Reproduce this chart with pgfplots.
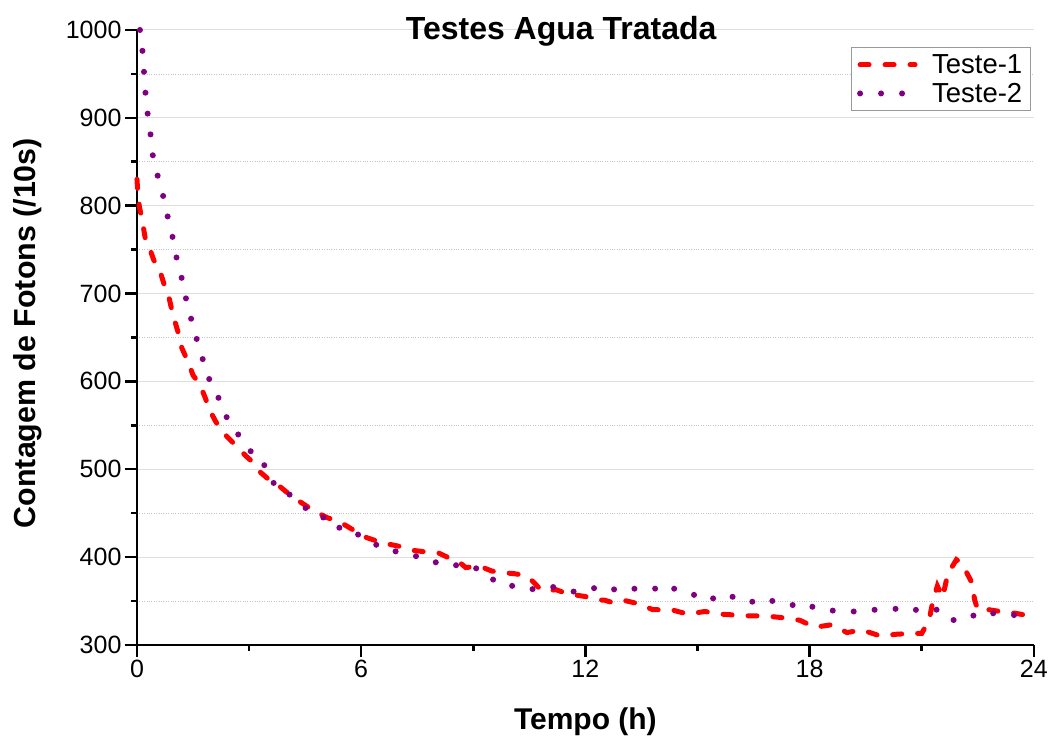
\documentclass[border=0pt]{standalone}
\usepackage{pgfplots}
\pgfplotsset{compat=1.18}
\usepackage{fontspec}
\setmainfont{Liberation Sans}
\definecolor{teste1}{RGB}{255,0,0}
\definecolor{teste2}{RGB}{128,0,128}

\begin{document}
\begin{tikzpicture}
\begin{axis}[
  name=ax,
  scale only axis,
  width=897pt, height=615pt,
  xmin=0, xmax=24, ymin=300, ymax=1000,
  axis lines=left,
  axis line style={-, line width=2.5pt, black},
  xtick={0,6,12,18,24},
  ytick={300,400,...,1000},
  minor x tick num=1,
  minor y tick num=1,
  tick align=outside,
  major tick length=12pt,
  minor tick length=6pt,
  every tick/.style={black, line width=2.5pt},
  ymajorgrids, yminorgrids,
  major grid style={gray!25, line width=1pt},
  minor grid style={gray!45, dotted, line width=0.7pt},
  /pgf/number format/assume math mode=true,
  /pgf/number format/set thousands separator={},
  tick label style={font=\fontsize{25}{29}\selectfont},
  title={\bfseries Testes Agua Tratada},
  title style={font=\fontsize{32}{36}\selectfont, at={(axis description cs:0.473,0.974)}, anchor=base},
  xlabel={\bfseries Tempo (h)},
  xlabel style={font=\fontsize{30}{34}\selectfont, at={(axis description cs:0.5,-0.138)}, anchor=base},
  ylabel={\bfseries Contagem de Fotons (/10s)},
  ylabel style={font=\fontsize{30.4}{34}\selectfont, at={(axis description cs:-0.1126,0.507)}, anchor=base},
  legend style={at={(axis description cs:0.9966,0.972)}, anchor=north east,
    draw=gray!80, line width=1pt, font=\fontsize{27.5}{31}\selectfont,
    inner xsep=6pt, inner ysep=5pt, row sep=4pt,
    /tikz/every odd column/.append style={column sep=12pt}},
  legend cell align=left,
  legend image code/.code={\draw[#1] (0pt,0pt) -- (55pt,0pt);},
  clip=false,
]
\addplot[teste1, line width=5pt, line cap=round, dash pattern=on 9pt off 16pt] coordinates {
(0,830) (0.03,810) (0.06,800) (0.15,781) (0.22,763) (0.35,750) (0.45,738)
(0.62,725) (0.73,710) (0.86,695) (0.96,676) (1.10,656) (1.20,638) (1.37,622)
(1.50,607) (1.69,596) (1.82,582) (1.95,567) (2.11,554) (2.25,545) (2.41,537)
(2.62,528) (2.94,514) (3.10,508) (3.29,497) (3.48,490) (3.64,484) (3.83,480)
(4.09,471) (4.36,463) (4.68,454) (5.08,445) (5.43,440) (5.78,431) (6.15,422)
(6.58,416) (7.04,412) (7.3,408) (7.7,406) (8.05,405) (8.3,400) (8.6,395)
(8.8,388) (9.0,389) (9.26,388) (9.5,384) (9.85,382) (10.1,381) (10.4,379)
(10.6,372) (10.8,363) (11.0,361) (11.2,363) (11.4,360) (11.7,357) (12.0,355)
(12.3,351) (12.5,351) (12.74,348) (13.0,351) (13.5,346) (13.8,340) (14.3,340)
(14.74,335) (15.2,338) (15.6,335) (16.0,334) (16.4,333) (16.8,333) (17.26,331)
(17.74,328) (18.14,320) (18.6,323) (19.0,314) (19.4,317) (19.9,310) (20.3,312)
(20.7,313) (21.0,313) (21.2,328) (21.3,350) (21.42,367) (21.56,354) (21.7,381)
(21.93,397) (22.07,393) (22.33,372) (22.42,351) (22.5,340) (22.8,340)
(23.1,338) (23.5,336) (23.9,333) (24.0,331)
};
\addlegendentry{Teste-1}
\addplot[teste2, line width=6pt, line cap=round, dash pattern=on 0pt off 21pt] coordinates {
(0.08,1000) (0.15,975) (0.19,951) (0.23,927) (0.29,903) (0.37,879) (0.43,855)
(0.56,833) (0.70,811) (0.82,788) (0.94,767) (1.04,744) (1.18,721) (1.29,698)
(1.42,676) (1.55,655) (1.69,635) (1.84,614) (1.98,597) (2.11,588) (2.27,573)
(2.43,556) (2.62,546) (2.80,533) (3.02,521) (3.20,517) (3.37,512) (3.47,492)
(3.69,483) (3.91,481) (4.12,469) (4.36,462) (4.63,451) (4.84,445) (5.10,445)
(5.34,433) (5.57,434) (5.78,427) (5.97,425) (6.2,418) (6.45,413) (6.68,412)
(6.85,407) (7.1,405) (7.35,402) (7.57,400) (7.79,395) (8.0,394) (8.24,395)
(8.5,391) (8.72,389) (9.04,389) (9.22,380) (9.39,378) (9.62,372) (9.89,366)
(10.14,368) (10.38,365) (10.65,363) (10.92,366) (11.1,366) (11.32,365)
(11.54,362) (11.76,360) (12.12,363) (12.34,366) (12.57,367) (12.83,362)
(13.06,361) (13.3,364) (13.54,362) (13.8,364) (14.04,364) (14.24,368)
(14.37,364) (14.6,361) (14.84,359) (15.1,351) (15.38,352) (15.64,358)
(15.91,355) (16.13,353) (16.4,348) (16.71,353) (16.94,350) (17.2,350)
(17.42,347) (17.65,344) (17.9,347) (18.19,341) (18.45,339) (18.72,339)
(18.94,338) (19.21,338) (19.43,338) (19.75,340) (19.97,340) (20.24,341)
(20.46,341) (20.68,338) (20.95,341) (21.17,339) (21.4,340) (21.62,330)
(21.89,328) (22.2,334) (22.47,333) (22.73,338) (23.0,335) (23.22,334)
(23.45,334) (23.71,333) (23.94,332)
};
\addlegendentry{Teste-2}
\end{axis}
% page frame around the axis and its labels
\path ([xshift=-137pt,yshift=-92pt]ax.south west) rectangle ([xshift=17pt,yshift=30pt]ax.north east);
\end{tikzpicture}
\end{document}
